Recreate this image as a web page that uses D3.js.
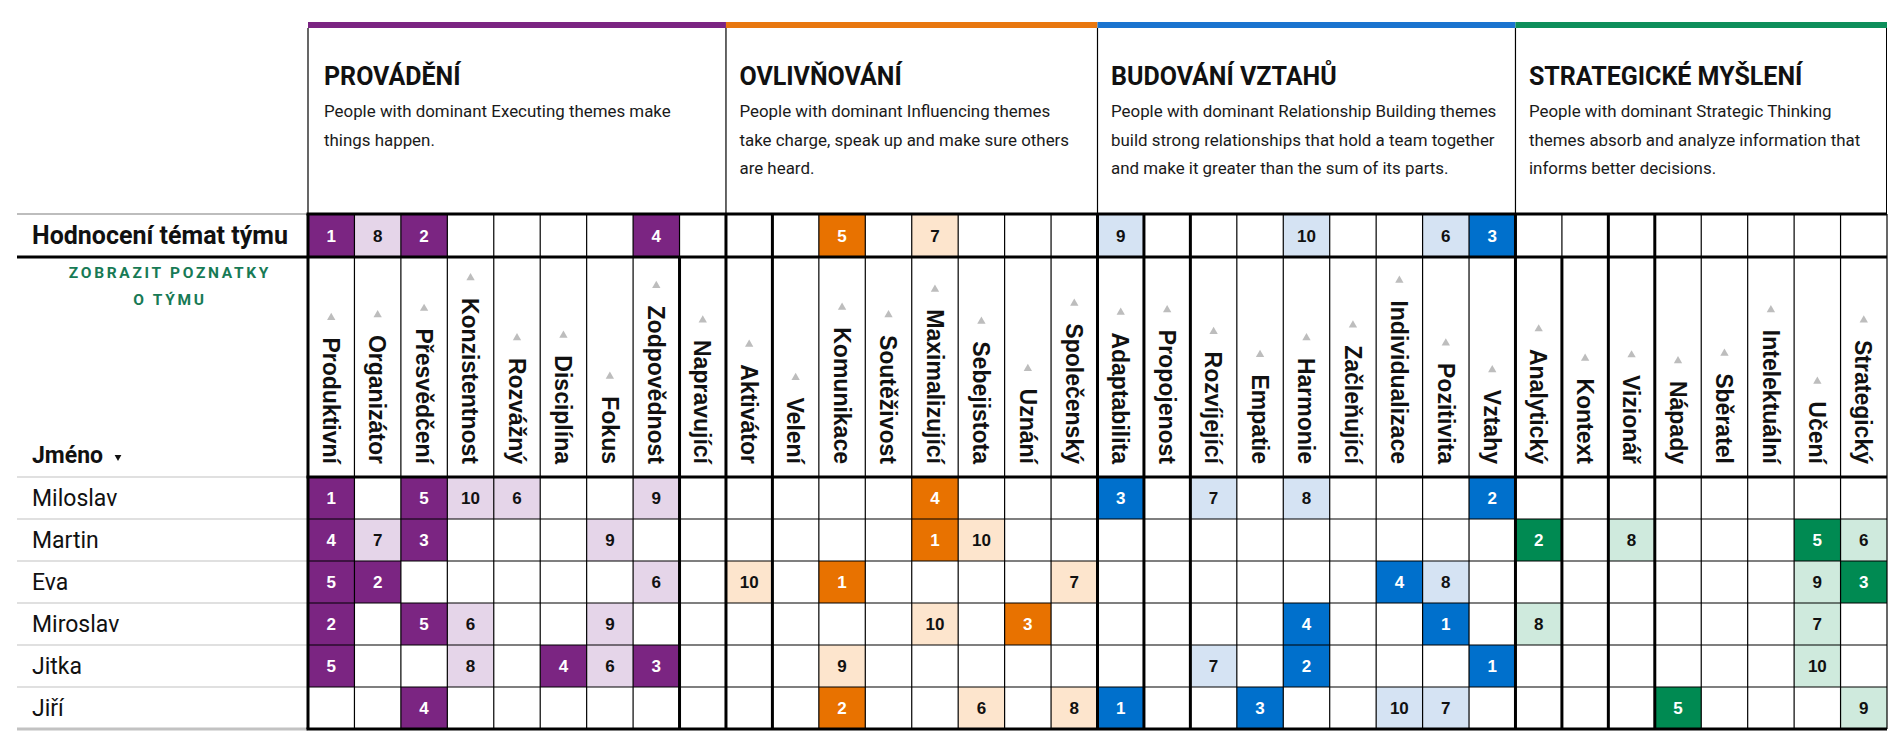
<!DOCTYPE html>
<html><head><meta charset="utf-8">
<script src="https://cdn.jsdelivr.net/npm/d3@7"></script>
<style>body{margin:0;background:#fff;} svg{display:block;}</style>
</head><body><svg id="chart" width="1888" height="748"></svg>
<script>
const _ = null;
const groupTitles = ["PROVÁDĚNÍ", "OVLIVŇOVÁNÍ", "BUDOVÁNÍ VZTAHŮ", "STRATEGICKÉ MYŠLENÍ"];
const groupDescriptions = [
  ["People with dominant Executing themes make", "things happen."],
  ["People with dominant Influencing themes", "take charge, speak up and make sure others", "are heard."],
  ["People with dominant Relationship Building themes", "build strong relationships that hold a team together", "and make it greater than the sum of its parts."],
  ["People with dominant Strategic Thinking", "themes absorb and analyze information that", "informs better decisions."]
];
const groupSizes = [9, 8, 9, 8];
const groupColors = ["#7b2582", "#e8770f", "#1a74cf", "#0e8f5b"];
const darkFill = ["#7b2582", "#e87200", "#0070cc", "#008a52"];
const lightFill = ["#e5d5e9", "#fde5cd", "#d5e3f3", "#cfeadd"];
const themes = [
  "Produktivní", "Organizátor", "Přesvědčení", "Konzistentnost", "Rozvážný", "Disciplína", "Fokus", "Zodpovědnost", "Napravující",
  "Aktivátor", "Velení", "Komunikace", "Soutěživost", "Maximalizující", "Sebejistota", "Uznání", "Společenský",
  "Adaptabilita", "Propojenost", "Rozvíjející", "Empatie", "Harmonie", "Začleňující", "Individualizace", "Pozitivita", "Vztahy",
  "Analytický", "Kontext", "Vizionář", "Nápady", "Sběratel", "Intelektuální", "Učení", "Strategický"
];
const teamLabel = "Hodnocení témat týmu";
const teamRanks = [1,8,2,_,_,_,_,4,_, _,_,5,_,7,_,_,_, 9,_,_,_,10,_,_,6,3, _,_,_,_,_,_,_,_];
const names = ["Miloslav", "Martin", "Eva", "Miroslav", "Jitka", "Jiří"];
const ranksMiloslav = [1,_,5,10,6,_,_,9,_, _,_,_,_,4,_,_,_, 3,_,7,_,8,_,_,_,2, _,_,_,_,_,_,_,_];
const ranksMartin   = [4,7,3,_,_,_,9,_,_, _,_,_,_,1,10,_,_, _,_,_,_,_,_,_,_,_, 2,_,8,_,_,_,5,6];
const ranksEva      = [5,2,_,_,_,_,_,6,_, 10,_,1,_,_,_,_,7, _,_,_,_,_,_,4,8,_, _,_,_,_,_,_,9,3];
const ranksMiroslav = [2,_,5,6,_,_,9,_,_, _,_,_,_,10,_,3,_, _,_,_,_,4,_,_,1,_, 8,_,_,_,_,_,7,_];
const ranksJitka    = [5,_,_,8,_,4,6,3,_, _,_,9,_,_,_,_,_, _,_,7,_,2,_,_,_,1, _,_,_,_,_,_,10,_];
const ranksJiri     = [_,_,4,_,_,_,_,_,_, _,_,2,_,_,6,_,8, 1,_,_,3,_,_,10,7,_, _,_,_,5,_,_,_,9];
const personRanks = [ranksMiloslav, ranksMartin, ranksEva, ranksMiroslav, ranksJitka, ranksJiri];
const insightLines = ["ZOBRAZIT POZNATKY", "O TÝMU"];
const nameHeader = "Jméno";
// boundaries drawn heavier (as in the reference rendering)
const heavyAll = [0, 9, 10, 17, 18, 19, 26, 28, 29];
const heavyLower = [8, 27];

const svg = d3.select("#chart");
const n = themes.length;
const x = d3.scaleBand().domain(d3.range(n)).range([308, 1887]);
const y = d3.scaleBand().domain(names).range([477, 729]);
const bw = x.bandwidth();
const teamTop = 214, teamBot = 257, labelBot = 477;
const starts = groupSizes.map((s, i) => d3.sum(groupSizes.slice(0, i)));
const groupOf = d3.range(n).map(i => groupSizes.findIndex((s, g) => i >= starts[g] && i < starts[g] + s));
const gx0 = g => x(starts[g]);
const gx1 = g => starts[g] + groupSizes[g] >= n ? 1887 : x(starts[g] + groupSizes[g]);

const sans = "Roboto, 'Liberation Sans', Arial, sans-serif";
const arial = "'Liberation Sans', Arial, Helvetica, sans-serif";

// group headers
const gH = svg.append("g");
groupTitles.forEach((t, g) => {
  const pad = g === 0 ? 16 : 13.5;
  gH.append("rect").attr("x", gx0(g)).attr("y", 22).attr("width", gx1(g) - gx0(g)).attr("height", 6).attr("fill", groupColors[g]);
  gH.append("text").attr("x", gx0(g) + pad).attr("y", 85).attr("font-family", sans).attr("font-weight", 700)
    .attr("font-size", 25).attr("fill", "#111").text(t);
  groupDescriptions[g].forEach((line, k) => {
    gH.append("text").attr("x", gx0(g) + pad).attr("y", 117 + k * 28.5).attr("font-family", sans)
      .attr("font-size", 16.9).attr("fill", "#1a1a1a").text(line);
  });
  gH.append("line").attr("x1", gx0(g)).attr("x2", gx0(g)).attr("y1", 28).attr("y2", teamTop).attr("stroke", "#000").attr("stroke-width", 1.2);
});
gH.append("line").attr("x1", 1886.5).attr("x2", 1886.5).attr("y1", 28).attr("y2", teamTop).attr("stroke", "#000").attr("stroke-width", 1);

// cells
function cellFill(r, i) { return r <= 5 ? darkFill[groupOf[i]] : lightFill[groupOf[i]]; }
const cells = svg.append("g");
function drawRow(ranks, y0, h) {
  ranks.forEach((r, i) => {
    if (r == null) return;
    cells.append("rect").attr("x", x(i)).attr("y", y0).attr("width", bw).attr("height", h).attr("fill", cellFill(r, i));
    cells.append("text").attr("x", x(i) + bw / 2).attr("y", y0 + h / 2 + 6).attr("text-anchor", "middle")
      .attr("font-family", arial).attr("font-weight", 700).attr("font-size", 17)
      .attr("fill", r <= 5 ? "#fff" : "#111").text(r);
  });
}
drawRow(teamRanks, teamTop, teamBot - teamTop);
personRanks.forEach((rk, p) => drawRow(rk, y(names[p]), y.bandwidth()));

// column labels
const lab = svg.append("g");
themes.forEach((t, i) => {
  const cx = x(i) + bw / 2;
  const tx = lab.append("text").attr("transform", `translate(${cx},464) rotate(90)`).attr("text-anchor", "end")
    .attr("dy", "0.36em").attr("font-family", arial).attr("font-weight", 700).attr("font-size", 23).attr("fill", "#111").text(t);
  const L = tx.node().getComputedTextLength();
  lab.append("path").attr("d", d3.symbol(d3.symbolTriangle, 30)()).attr("transform", `translate(${cx},${464 - L - 20})`).attr("fill", "#bdbdbd");
});

// left labels
const left = svg.append("g");
left.append("text").attr("x", 32).attr("y", 244).attr("font-family", sans).attr("font-weight", 700).attr("font-size", 25).attr("fill", "#111").text(teamLabel);
insightLines.forEach((l, k) => {
  left.append("text").attr("x", 170).attr("y", 278 + k * 27).attr("text-anchor", "middle").attr("font-family", sans)
    .attr("font-weight", 700).attr("font-size", 15.5).attr("letter-spacing", 2.7).attr("fill", "#177a55").text(l);
});
left.append("text").attr("x", 32).attr("y", 463).attr("font-family", sans).attr("font-weight", 700).attr("font-size", 23).attr("fill", "#111").text(nameHeader);
left.append("path").attr("d", d3.symbol(d3.symbolTriangle, 20)()).attr("transform", "translate(118,457) rotate(180)").attr("fill", "#111");
names.forEach(nm => {
  left.append("text").attr("x", 32).attr("y", y(nm) + y.bandwidth() / 2 + 8).attr("font-family", sans).attr("font-size", 23).attr("fill", "#111").text(nm);
});

// grid lines
const grid = svg.append("g");
function hl(x1, x2, yy, w, c) { grid.append("line").attr("x1", x1).attr("x2", x2).attr("y1", yy).attr("y2", yy).attr("stroke", c).attr("stroke-width", w); }
function vl(xx, y1, y2, w) { grid.append("line").attr("x1", xx).attr("x2", xx).attr("y1", y1).attr("y2", y2).attr("stroke", "#000").attr("stroke-width", w); }
hl(17, 308, teamTop, 2, "#bdbdbd");
names.forEach((nm, p) => { hl(17, 308, y(nm), 1.2, "#c2c2c2"); });
hl(17, 308, 729, 3, "#c2c2c2");
d3.range(n + 1).forEach(b => {
  const xx = b === n ? 1887 : x(b);
  if (heavyAll.includes(b)) vl(xx, teamTop, 729, 3);
  else if (heavyLower.includes(b)) { vl(xx, teamTop, teamBot, 1.2); vl(xx, teamBot, 729, 3); }
  else vl(xx, teamTop, 729, 1.2);
});
names.forEach((nm, p) => { if (p > 0) hl(308, 1887, y(nm), 1.2, "#000"); });
hl(306.5, 1887, teamTop, 3, "#000");
hl(17, 1887, teamBot, 3, "#000");
hl(306.5, 1887, labelBot, 3, "#000");
hl(306.5, 1887, 729, 3, "#000");
</script></body></html>
